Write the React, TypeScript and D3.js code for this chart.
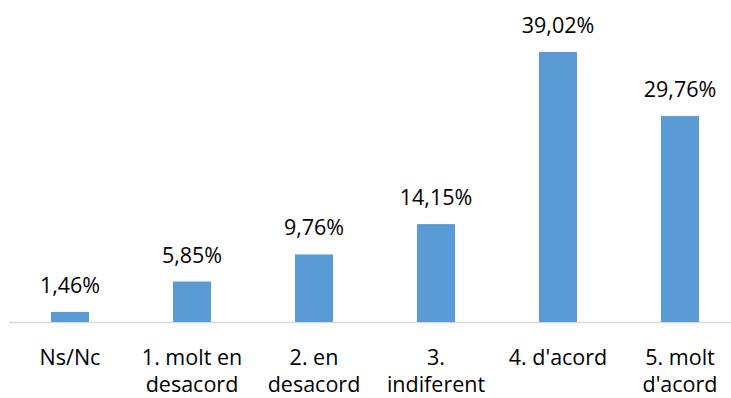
import React from "react";
import * as d3 from "d3";

const categories: string[][] = [
  ["Ns/Nc"],
  ["1. molt en", "desacord"],
  ["2. en", "desacord"],
  ["3.", "indiferent"],
  ["4. d'acord"],
  ["5. molt", "d'acord"],
];
const values: number[] = [1.46, 5.85, 9.76, 14.15, 39.02, 29.76];
const valueLabels: string[] = ["1,46%", "5,85%", "9,76%", "14,15%", "39,02%", "29,76%"];

const W = 731;
const H = 398;
const FONT = "'Open Sans', sans-serif";

export default function App() {
  const idx = categories.map((_, i) => String(i));
  const x = d3.scalePoint<string>().domain(idx).range([70, 680]);
  const y = d3.scaleLinear().domain([0, 39.02]).range([322, 52]);
  const bw = 38;
  return (
    <svg width={W} height={H} style={{ position: "absolute", left: 0, top: 0, background: "#fff" }}>
      <line x1={9} x2={731} y1={322.5} y2={322.5} stroke="#D9D9D9" strokeWidth={1.3} />
      {values.map((v, i) => {
        const cx = x(String(i)) as number;
        return (
          <g key={i}>
            <rect x={cx - bw / 2} y={y(v)} width={bw} height={y(0) - y(v)} fill="#5B9BD5" />
            <text x={cx} y={y(v) - 19} textAnchor="middle" fontFamily={FONT} fontSize={21.5} fill="#000">
              {valueLabels[i]}
            </text>
            {categories[i].map((line, j) => (
              <text key={j} x={cx} y={365 + j * 27} textAnchor="middle" fontFamily={FONT} fontSize={21.5} fill="#000">
                {line}
              </text>
            ))}
          </g>
        );
      })}
    </svg>
  );
}
